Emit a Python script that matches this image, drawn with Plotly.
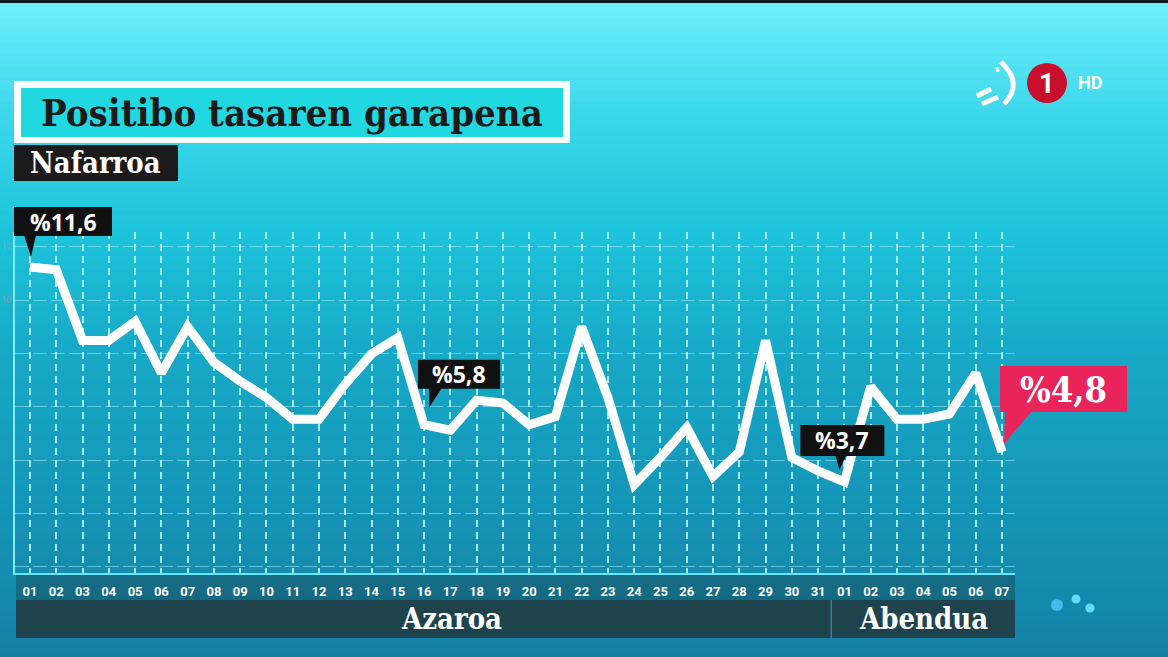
import plotly.graph_objects as go

W, H = 1168, 657

# ---------------- data ----------------
days_nov = [f"{d:02d}" for d in range(1, 32)]
days_dec = [f"{d:02d}" for d in range(1, 8)]
tick_labels = days_nov + days_dec
rates = [11.6, 11.5, 8.9, 8.9, 9.6, 7.7, 9.4, 8.1, 7.4, 6.8,
         6.0, 6.0, 7.3, 8.4, 9.0, 5.8, 5.6, 6.7, 6.6, 5.8,
         6.1, 9.4, 6.8, 3.6, 4.6, 5.7, 3.9, 4.8, 8.9, 4.6,
         4.1,
         3.7, 7.2, 6.0, 6.0, 6.2, 7.7, 4.8]
months = ["Azaroa", "Abendua"]
month_centers = [16.06, 34.03]
month_split = 30.5
callout_idx = [0, 15, 31, 37]
callout_text = ["%11,6", "%5,8", "%3,7", "%4,8"]
grid_vals = [0, 2, 4, 6, 8, 10, 12]
grid_text = ["", "", "", "", "", "10", "12"]
title = "Positibo tasaren garapena"
subtitle = "Nafarroa"

x = list(range(len(rates)))

# ---------------- layout geometry (pixels) ----------------
PL, PR, PT, PB = 15, 1015, 232, 573          # plot area
x_range = [-0.571, 37.495]
grid_range = [-0.235, 12.551]
data_range = [0.35, 12.887]

def px(v):
    return v / W

def py(v):
    return 1 - v / H

# full-figure axes with the same linear mapping as the plot area
ux = (x_range[1] - x_range[0]) / (PR - PL)
x_full = [x_range[0] - PL * ux, x_range[1] + (W - PR) * ux]
uy = (data_range[1] - data_range[0]) / (PB - PT)
y_full = [data_range[0] - (H - PB) * uy, data_range[1] + PT * uy]

def hexmix(c1, c2, t):
    a = [int(c1[i:i + 2], 16) for i in (1, 3, 5)]
    b = [int(c2[i:i + 2], 16) for i in (1, 3, 5)]
    return "#" + "".join(f"{round(a[k] + (b[k] - a[k]) * t):02x}" for k in range(3))

stops = [(0, "#6ef0fb"), (120, "#3ad6ea"), (230, "#1ec4dc"),
         (350, "#17a9c7"), (500, "#1596b8"), (657, "#1480a6")]

def grad(yv):
    for (y0, c0), (y1, c1) in zip(stops[:-1], stops[1:]):
        if y0 <= yv <= y1:
            return hexmix(c0, c1, (yv - y0) / (y1 - y0))
    return stops[-1][1]

shapes = []
band = 6
for yb in range(0, H, band):
    shapes.append(dict(type="rect", xref="paper", yref="paper", layer="below",
                       x0=0, x1=1, y0=py(yb + band + 0.5), y1=py(yb),
                       fillcolor=grad(yb + band / 2), line=dict(width=0)))
shapes.append(dict(type="rect", xref="paper", yref="paper", layer="below",
                   x0=0, x1=1, y0=py(3), y1=1, fillcolor="#0d1a1e", line=dict(width=0)))
# tick label strip + month band
shapes.append(dict(type="rect", xref="paper", yref="paper", layer="below",
                   x0=px(16), x1=px(1015), y0=py(600), y1=py(575),
                   fillcolor="rgba(22,96,118,0.75)", line=dict(width=0)))
shapes.append(dict(type="rect", xref="paper", yref="paper", layer="below",
                   x0=px(16), x1=px(1015), y0=py(638), y1=py(600),
                   fillcolor="#1f434c", line=dict(width=0)))
shapes.append(dict(type="line", xref="x", yref="paper", layer="below",
                   x0=month_split, x1=month_split, y0=py(638), y1=py(600),
                   line=dict(color="rgba(60,150,170,0.8)", width=1.5)))
# title boxes
shapes.append(dict(type="rect", xref="paper", yref="paper", layer="below",
                   x0=px(14), x1=px(570), y0=py(143), y1=py(81),
                   fillcolor="#ffffff", line=dict(width=0)))
shapes.append(dict(type="rect", xref="paper", yref="paper", layer="below",
                   x0=px(21), x1=px(563), y0=py(137), y1=py(88),
                   fillcolor="#21d8e0", line=dict(width=0)))
shapes.append(dict(type="rect", xref="paper", yref="paper", layer="below",
                   x0=px(14), x1=px(178), y0=py(181), y1=py(145),
                   fillcolor="#1b1b1b", line=dict(width=0)))
# logo
shapes.append(dict(type="circle", xref="paper", yref="paper", layer="above",
                   x0=px(1027), x1=px(1067), y0=py(103), y1=py(63),
                   fillcolor="#c8102e", line=dict(width=0)))
shapes.append(dict(type="path", xref="paper", yref="paper", layer="above",
                   path=f"M {px(1001)},{py(62)} Q {px(1024)},{py(84)} {px(1004)},{py(104)}",
                   line=dict(color="white", width=5)))
for (ax0, ay0, ax1, ay1) in [(977, 96, 991, 89), (982, 104, 998, 97), (996, 70, 999, 69)]:
    shapes.append(dict(type="line", xref="paper", yref="paper", layer="above",
                       x0=px(ax0), y0=py(ay0), x1=px(ax1), y1=py(ay1),
                       line=dict(color="white", width=5)))
for (cx, cy, r, col) in [(1057, 605, 6, "rgba(80,200,255,0.8)"),
                         (1076, 599, 4.5, "rgba(110,235,255,0.85)"),
                         (1090, 608, 4.5, "rgba(110,235,255,0.85)")]:
    shapes.append(dict(type="circle", xref="paper", yref="paper", layer="below",
                       x0=px(cx - r), x1=px(cx + r), y0=py(cy + r), y1=py(cy - r),
                       fillcolor=col, line=dict(width=0)))

# callout boxes: pixel offsets relative to the data point (full-figure data axes)
box_off = [(-16, 82, 31, 60), (-6, 76, 36, 65), (-44, 40, 26, 57), (-2, 125, 40, 86)]
ptr_off = [[(-6, 32), (6, 32), (1, 10)],
           [(5, 37), (18, 37), (5, 17)],
           [(-9, 27), (2, 27), (-5, 12)],
           [(3, 41), (30, 41), (2, 8)]]
box_col = ["#111111", "#111111", "#111111", "#e8245a"]
annotations = []
for k, idx in enumerate(callout_idx):
    bx0, bx1, by0, by1 = box_off[k]
    shapes.append(dict(type="rect", xref="x2", yref="y2", layer="above",
                       xsizemode="pixel", ysizemode="pixel",
                       xanchor=x[idx], yanchor=rates[idx],
                       x0=bx0, x1=bx1, y0=by0, y1=by1,
                       fillcolor=box_col[k], line=dict(width=0)))
    path = "M " + " L ".join(f"{a},{b}" for a, b in ptr_off[k]) + " Z"
    shapes.append(dict(type="path", xref="x2", yref="y2", layer="above",
                       xsizemode="pixel", ysizemode="pixel",
                       xanchor=x[idx], yanchor=rates[idx], path=path,
                       fillcolor=box_col[k], line=dict(width=0)))
    big = (k == 3)
    annotations.append(dict(
        x=x[idx], y=rates[idx], xref="x2", yref="y2", showarrow=False,
        text=callout_text[k],
        xshift=(bx0 + bx1) / 2, yshift=(by0 + by1) / 2,
        xanchor="center", yanchor="middle",
        font=dict(family="DejaVu Serif Condensed" if big else "Open Sans",
                  size=36 if big else 23, color="white", weight="bold")))

annotations.append(dict(x=px(292), y=py(112), xref="paper", yref="paper", showarrow=False,
                        text=title, xanchor="center", yanchor="middle",
                        font=dict(family="DejaVu Serif Condensed", size=38,
                                  color="#1a1a1a", weight="bold")))
annotations.append(dict(x=px(95), y=py(163), xref="paper", yref="paper", showarrow=False,
                        text=subtitle, xanchor="center", yanchor="middle",
                        font=dict(family="DejaVu Serif Condensed", size=29,
                                  color="white", weight="bold")))
for m, c in zip(months, month_centers):
    annotations.append(dict(x=c, y=py(619), xref="x", yref="paper", showarrow=False,
                            text=m, xanchor="center", yanchor="middle",
                            font=dict(family="DejaVu Serif Condensed", size=29,
                                      color="white", weight="bold")))
annotations.append(dict(x=px(1047), y=py(84), xref="paper", yref="paper", showarrow=False,
                        text="1", xanchor="center", yanchor="middle",
                        font=dict(family="Roboto", size=27, color="white", weight="bold")))
annotations.append(dict(x=px(1090), y=py(83), xref="paper", yref="paper", showarrow=False,
                        text="HD", xanchor="center", yanchor="middle",
                        font=dict(family="Roboto", size=18, color="white", weight="bold")))

fig = go.Figure()
# empty trace registering the grid subplot
fig.add_trace(go.Scatter(x=[], y=[], xaxis="x", yaxis="y", showlegend=False,
                         hoverinfo="skip"))
fig.add_trace(go.Scatter(x=x, y=rates, mode="lines", xaxis="x2", yaxis="y2",
                         line=dict(color="white", width=9),
                         hoverinfo="skip", showlegend=False))

fig.update_layout(
    width=W, height=H,
    margin=dict(l=0, r=0, t=0, b=0, autoexpand=False),
    paper_bgcolor="#1ec4dc",
    plot_bgcolor="rgba(0,0,0,0)",
    showlegend=False,
    shapes=shapes,
    annotations=annotations,
    xaxis=dict(domain=[px(PL), px(PR)], range=x_range, automargin=False,
               tickmode="array", tickvals=x, ticktext=tick_labels,
               showgrid=True, gridcolor="rgba(175,248,255,0.9)", gridwidth=1.5,
               griddash="7px,5px", zeroline=False,
               showline=True, linecolor="#5fe9f7", linewidth=2,
               ticks="", ticklabelstandoff=5, anchor="y",
               tickfont=dict(family="Roboto", size=13, color="white", weight="bold")),
    yaxis=dict(domain=[py(PB), py(PT)], range=grid_range, anchor="x", automargin=False,
               tickmode="array", tickvals=grid_vals, ticktext=grid_text,
               showgrid=True, gridcolor="rgba(165,238,248,0.55)", gridwidth=1,
               griddash="14px,4px", zeroline=False,
               showline=True, linecolor="#7ff0fa", linewidth=2, ticks="",
               ticklabelstandoff=0,
               tickfont=dict(family="Roboto", size=9, color="#7f9fae")),
    xaxis2=dict(domain=[0, 1], range=x_full, anchor="y2", visible=False,
                automargin=False, showgrid=False, zeroline=False),
    yaxis2=dict(domain=[0, 1], range=y_full, anchor="x2", visible=False,
                automargin=False, showgrid=False, zeroline=False),
)

fig.write_html("out.html", config={"displayModeBar": False},
               post_script="document.body.style.margin='0';document.body.style.overflow='hidden';")
